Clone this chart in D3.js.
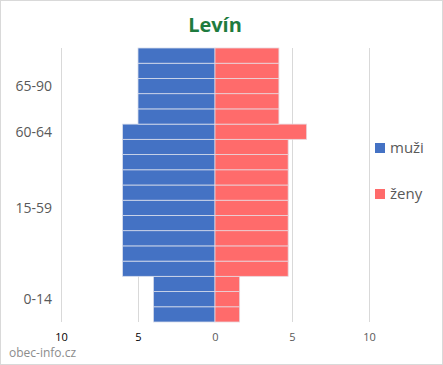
<!DOCTYPE html>
<html>
<head>
<meta charset="utf-8">
<script src="https://cdn.jsdelivr.net/npm/d3@7"></script>
<style>
  body { margin: 0; background: #fff; }
  svg { display: block; }
</style>
</head>
<body>
<svg id="chart"></svg>
<script>
// ─── Data (rows from bottom to top) ───────────────────────────
const rowGroups = [
  "0-14", "0-14", "0-14",
  "15-59", "15-59", "15-59", "15-59", "15-59", "15-59", "15-59", "15-59", "15-59",
  "60-64",
  "65-90", "65-90", "65-90", "65-90", "65-90"
];
const muzi = [4, 4, 4, 6, 6, 6, 6, 6, 6, 6, 6, 6, 6, 5, 5, 5, 5, 5];
const zeny = [1.6, 1.6, 1.6, 4.75, 4.75, 4.75, 4.75, 4.75, 4.75, 4.75, 4.75, 4.75, 5.95, 4.15, 4.15, 4.15, 4.15, 4.15];
const groupLabels = ["0-14", "15-59", "60-64", "65-90"];
const xTicks = [-10, -5, 0, 5, 10];
const seriesNames = ["muži", "ženy"];

const COLORS = { muzi: "#4472c4", zeny: "#ff6b6b" };
const FONT = "'Open Sans', 'Noto Sans', sans-serif";

const width = 443, height = 365;
const svg = d3.select("#chart").attr("width", width).attr("height", height);

// Outer border
svg.append("rect")
  .attr("x", 0.5).attr("y", 0.5)
  .attr("width", width - 1).attr("height", height - 1)
  .attr("fill", "#fff").attr("stroke", "#d9d9d9");

// Title
svg.append("text")
  .attr("x", 215).attr("y", 32)
  .attr("text-anchor", "middle")
  .attr("font-family", FONT).attr("font-weight", "bold")
  .attr("font-size", "20px").attr("fill", "#1e7b3e")
  .text("Levín");

const x = d3.scaleLinear().domain([-10, 10]).range([61, 369]);
const rowIdx = d3.range(rowGroups.length);
const y = d3.scaleBand().domain(rowIdx).range([322, 48]).padding(0);

// Gridlines
svg.append("g").selectAll("line")
  .data(xTicks.filter(t => t !== 0))
  .join("line")
  .attr("x1", d => Math.round(x(d)) + 0.5).attr("x2", d => Math.round(x(d)) + 0.5)
  .attr("y1", 48).attr("y2", 322)
  .attr("stroke", "#d9d9d9").attr("stroke-width", 1);

// Bars
const bars = svg.append("g");
bars.selectAll("rect.m")
  .data(rowIdx)
  .join("rect")
  .attr("class", "m")
  .attr("x", i => x(-muzi[i]))
  .attr("width", i => x(0) - x(-muzi[i]))
  .attr("y", i => y(i))
  .attr("height", y.bandwidth())
  .attr("fill", COLORS.muzi)
  .attr("stroke", "#d6dcec").attr("stroke-width", 0.8);

bars.selectAll("rect.z")
  .data(rowIdx)
  .join("rect")
  .attr("class", "z")
  .attr("x", x(0))
  .attr("width", i => x(zeny[i]) - x(0))
  .attr("y", i => y(i))
  .attr("height", y.bandwidth())
  .attr("fill", COLORS.zeny)
  .attr("stroke", "#e8d6dc").attr("stroke-width", 0.8);

// Y labels centred on their groups
svg.append("g").selectAll("text")
  .data(groupLabels)
  .join("text")
  .attr("x", 52)
  .attr("y", g => {
    const idx = rowIdx.filter(i => rowGroups[i] === g);
    const top = d3.min(idx, i => y(i));
    const bot = d3.max(idx, i => y(i) + y.bandwidth());
    return (top + bot) / 2;
  })
  .attr("dy", "0.36em")
  .attr("text-anchor", "end")
  .attr("font-family", FONT).attr("font-size", "14px")
  .attr("fill", "#595959")
  .text(g => g);

// X axis labels
const xAxis = d3.axisBottom(x).tickValues(xTicks).tickSize(0).tickPadding(0)
  .tickFormat(d => Math.abs(d));
const xg = svg.append("g").attr("transform", "translate(0,333)").call(xAxis);
xg.select(".domain").remove();
xg.selectAll("text")
  .attr("font-family", FONT).attr("font-size", "11px")
  .attr("fill", d => d < 0 ? "#000" : "#595959");

// Legend
const legend = svg.append("g");
seriesNames.forEach((name, i) => {
  const ly = 148 + i * 46;
  legend.append("rect")
    .attr("x", 375).attr("y", ly - 5)
    .attr("width", 10).attr("height", 10)
    .attr("fill", i === 0 ? COLORS.muzi : COLORS.zeny);
  legend.append("text")
    .attr("x", 390).attr("y", ly).attr("dy", "0.36em")
    .attr("font-family", FONT).attr("font-size", "15px")
    .attr("fill", "#595959")
    .text(name);
});

// Watermark
svg.append("text")
  .attr("x", 9).attr("y", 357)
  .attr("font-family", FONT).attr("font-size", "12px")
  .attr("fill", "#8c8c8c")
  .text("obec-info.cz");
</script>
</body>
</html>
